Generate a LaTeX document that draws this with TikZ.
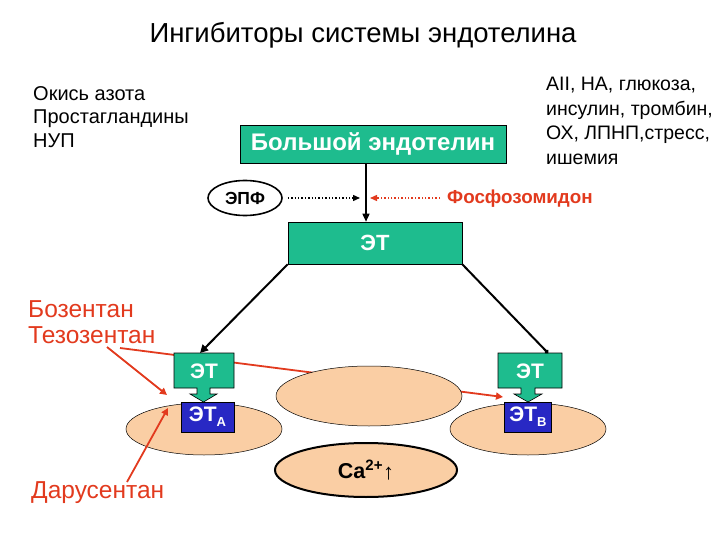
\documentclass[tikz,border=0pt]{standalone}
\usepackage{fontspec}
\setmainfont{Liberation Sans}
\usetikzlibrary{shapes.geometric,arrows.meta}
\definecolor{teal1}{RGB}{30,188,142}
\definecolor{blue1}{RGB}{40,40,196}
\definecolor{peach}{RGB}{250,206,164}
\definecolor{redt}{RGB}{226,58,30}
\tikzset{
  txt/.style={inner sep=0pt,font=\fontsize{19.5}{24.5}\selectfont,align=left},
  redtxt/.style={inner sep=0pt,text=redt,font=\fontsize{24.5}{26}\selectfont},
  tealbox/.style={fill=teal1,draw=black,line width=0.6pt,inner sep=0pt},
  bluebox/.style={fill=blue1,draw=black,line width=0.6pt,inner sep=0pt,text=white,font=\bfseries\fontsize{21}{24}\selectfont},
  oval/.style={ellipse,fill=peach,draw=black,line width=0.5pt,inner sep=0pt},
  blk/.style={draw=black,line width=2pt},
  redarr/.style={draw=redt,line width=1.8pt,-{Triangle[length=7pt,width=7pt]}},
}
\begin{document}
\begin{tikzpicture}[x=1pt,y=-1pt]
\useasboundingbox (0,0) rectangle (720,540);
% title
\node[inner sep=0pt,anchor=base,font=\fontsize{27.5}{30}\selectfont] (title) at (363,43) {Ингибиторы системы эндотелина};
% left text
\node[txt,anchor=north west,font=\fontsize{20}{23.5}\selectfont] (lefttxt) at (33,86) {Окись азота\\Простагландины\\НУП};
% right text
\node[txt,anchor=north west] (righttxt) at (546,77) {AII, НА, глюкоза,\\инсулин, тромбин,\\ОХ, ЛПНП,стресс,\\ишемия};
% big endothelin
\node[tealbox,minimum width=266pt,minimum height=38pt,text=white,font=\bfseries\fontsize{24}{26}\selectfont] (bigET) at (373,144) {Большой эндотелин};
% ET box
\node[tealbox,minimum width=174pt,minimum height=42pt,text=white,font=\bfseries\fontsize{22}{24}\selectfont] (ET) at (375,243) {ЭТ};
\draw[line width=1.5pt,-{Triangle[length=8pt,width=7pt]}] (bigET.south -| 366,0) -- (ET.north -| 366,0);
% EPF
\node[ellipse,draw=black,line width=1.6pt,minimum width=74pt,minimum height=35pt,inner sep=0pt,font=\bfseries\fontsize{17.5}{20}\selectfont] (epf) at (245,198) {ЭПФ};
\coordinate (epfend) at (360,198);
\draw[line width=1.4pt,dotted,-{Triangle[length=7pt,width=6pt]}] (epf.east) ++(5,0) -- (epfend);
\node[inner sep=0pt,anchor=west,text=redt,font=\bfseries\fontsize{18.8}{21}\selectfont] (fos) at (447,199) {Фосфозомидон};
\coordinate (fosend) at (370,198);
\draw[redt,line width=1.4pt,dotted,-{Triangle[length=7pt,width=6pt]}] (440,198) -- (fosend);
% red left texts
\node[redtxt,anchor=base west] (boz) at (28,317) {Бозентан};
\node[redtxt,anchor=base west] (tez) at (28,343) {Тезозентан};
\node[redtxt,anchor=base west] (dar) at (31,498) {Дарусентан};
% long red line behind
\coordinate (r1s) at (120,348);
\coordinate (r1e) at (503,397);
\draw[redarr] (r1s) -- (r1e);
% ellipses
\node[oval,minimum width=156pt,minimum height=52pt] (ovL) at (204,429) {};
\node[oval,minimum width=156pt,minimum height=52pt] (ovR) at (528,429) {};
\node[oval,minimum width=186pt,minimum height=60pt] (ovM) at (369,396) {};
\node[oval,line width=2pt,minimum width=182pt,minimum height=54pt,font=\bfseries\fontsize{21.5}{23}\selectfont] (ca) at (366,470) {Ca\textsuperscript{2+}\raisebox{-1pt}{\fontsize{22}{22}\selectfont↑}};
% left ET arrow box
\path[tealbox] (174,353) -- (234,353) -- (234,388) -- (210,388) -- (210,394) -- (217,394) -- (203.5,402) -- (190,394) -- (197,394) -- (197,388) -- (174,388) -- cycle;
\node[inner sep=0pt,text=white,font=\bfseries\fontsize{21}{24}\selectfont] (etL) at (204,371) {ЭТ};
\node[bluebox,minimum width=53pt,minimum height=30pt] (etaL) at (207.5,417) {ЭТ\raisebox{-5pt}{\fontsize{13}{14}\selectfont A}};
% right ET arrow box
\path[tealbox] (498,353) -- (562,353) -- (562,388) -- (535,388) -- (535,394) -- (542,394) -- (528,402) -- (514,394) -- (521,394) -- (521,388) -- (498,388) -- cycle;
\node[inner sep=0pt,text=white,font=\bfseries\fontsize{21}{24}\selectfont] (etR) at (530,371) {ЭТ};
\node[bluebox,minimum width=47pt,minimum height=30pt] (etaR) at (528,417) {ЭТ\raisebox{-5pt}{\fontsize{13}{14}\selectfont B}};
% black lines from ET
\coordinate (lend) at (200,353);
\coordinate (rend) at (548,353);
\draw[blk,-{Triangle[length=8pt,width=8pt]}] (ET.south west) -- (lend);
\draw[blk,-{Circle[length=4pt]}] (ET.south east) -- (rend);
% red arrows
\coordinate (r2s) at (107,347);
\coordinate (r2e) at (167,395);
\draw[redarr] (r2s) -- (r2e);
\coordinate (r3s) at (127,482);
\coordinate (r3e) at (168,408);
\draw[redarr] (r3s) -- (r3e);
\end{tikzpicture}
\end{document}
